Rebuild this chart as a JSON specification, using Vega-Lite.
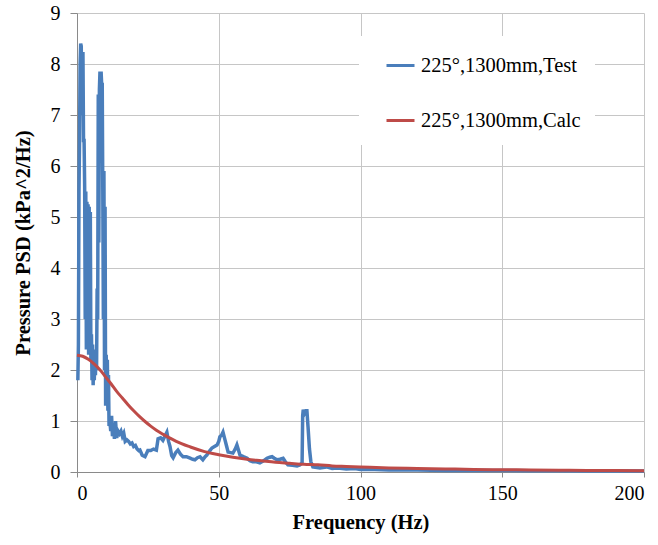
{
  "$schema": "https://vega.github.io/schema/vega-lite/v6.json",
  "width": 567,
  "height": 459,
  "autosize": "none",
  "padding": {"left": 77, "top": 13, "right": 14, "bottom": 73},
  "background": "white",
  "config": {
    "view": {"stroke": null},
    "font": "Liberation Serif",
    "axis": {
      "labelFont": "Liberation Serif",
      "titleFont": "Liberation Serif",
      "labelFontSize": 20,
      "titleFontSize": 20.5,
      "labelColor": "#000000",
      "titleColor": "#000000",
      "titleFontWeight": "bold",
      "gridColor": "#c6c6c6",
      "gridWidth": 1,
      "domainColor": "#8a8a8a",
      "domainWidth": 1,
      "tickColor": "#8a8a8a"
    },
    "legend": {
      "labelFont": "Liberation Serif",
      "labelFontSize": 20.5,
      "labelColor": "#000000"
    }
  },
  "datasets": {
    "test": [
      {"f": 0.3, "v": 1.8}, {"f": 0.5, "v": 2.5}, {"f": 0.7, "v": 5.5}, {"f": 0.9, "v": 6.5},
      {"f": 1.1, "v": 8.0}, {"f": 1.3, "v": 8.4}, {"f": 1.5, "v": 8.35}, {"f": 1.7, "v": 7.0},
      {"f": 1.9, "v": 8.2}, {"f": 2.1, "v": 8.2}, {"f": 2.3, "v": 6.5}, {"f": 2.5, "v": 6.5},
      {"f": 2.7, "v": 5.6}, {"f": 2.9, "v": 3.0}, {"f": 3.1, "v": 5.5}, {"f": 3.3, "v": 2.4},
      {"f": 3.5, "v": 5.3}, {"f": 3.7, "v": 2.6}, {"f": 3.9, "v": 5.25}, {"f": 4.1, "v": 2.3},
      {"f": 4.3, "v": 5.2}, {"f": 4.5, "v": 2.4}, {"f": 4.7, "v": 5.1}, {"f": 4.9, "v": 2.2},
      {"f": 5.1, "v": 2.7}, {"f": 5.3, "v": 1.8}, {"f": 5.5, "v": 2.5}, {"f": 5.7, "v": 1.7},
      {"f": 5.9, "v": 2.4}, {"f": 6.1, "v": 1.8}, {"f": 6.3, "v": 2.3}, {"f": 6.5, "v": 1.9},
      {"f": 6.7, "v": 2.4}, {"f": 6.9, "v": 2.0}, {"f": 7.1, "v": 3.6}, {"f": 7.3, "v": 3.0},
      {"f": 7.5, "v": 7.4}, {"f": 7.7, "v": 4.5}, {"f": 7.9, "v": 7.5}, {"f": 8.1, "v": 7.85},
      {"f": 8.3, "v": 7.2}, {"f": 8.5, "v": 7.85}, {"f": 8.7, "v": 7.6}, {"f": 8.9, "v": 7.6},
      {"f": 9.1, "v": 5.5}, {"f": 9.3, "v": 3.0}, {"f": 9.5, "v": 5.9}, {"f": 9.7, "v": 2.0},
      {"f": 9.9, "v": 5.2}, {"f": 10.1, "v": 1.3}, {"f": 10.3, "v": 2.3}, {"f": 10.5, "v": 1.3},
      {"f": 10.7, "v": 2.2}, {"f": 10.9, "v": 1.2}, {"f": 11.1, "v": 1.9}, {"f": 11.3, "v": 0.9},
      {"f": 11.6, "v": 1.0}, {"f": 11.9, "v": 0.8}, {"f": 12.2, "v": 1.1}, {"f": 12.5, "v": 0.7},
      {"f": 12.8, "v": 0.95}, {"f": 13.2, "v": 0.65}, {"f": 13.6, "v": 1.0}, {"f": 14.0, "v": 0.67},
      {"f": 14.5, "v": 0.8}, {"f": 15.0, "v": 0.75}, {"f": 15.5, "v": 0.8}, {"f": 16.0, "v": 0.7},
      {"f": 16.5, "v": 0.76}, {"f": 17.0, "v": 0.6}, {"f": 17.6, "v": 0.63}, {"f": 18.2, "v": 0.6},
      {"f": 18.8, "v": 0.55}, {"f": 19.4, "v": 0.57}, {"f": 20.0, "v": 0.5}, {"f": 20.6, "v": 0.52},
      {"f": 21.2, "v": 0.45}, {"f": 21.8, "v": 0.42}, {"f": 22.2, "v": 0.43}, {"f": 23.0, "v": 0.33},
      {"f": 24.0, "v": 0.3}, {"f": 25.0, "v": 0.42}, {"f": 26.0, "v": 0.42}, {"f": 27.0, "v": 0.45},
      {"f": 28.0, "v": 0.43}, {"f": 28.6, "v": 0.65}, {"f": 29.5, "v": 0.67}, {"f": 30.3, "v": 0.62},
      {"f": 31.0, "v": 0.7}, {"f": 31.7, "v": 0.78}, {"f": 32.3, "v": 0.6}, {"f": 32.8, "v": 0.5},
      {"f": 33.4, "v": 0.32}, {"f": 33.9, "v": 0.28}, {"f": 34.8, "v": 0.38}, {"f": 35.6, "v": 0.43},
      {"f": 36.5, "v": 0.35}, {"f": 37.4, "v": 0.3}, {"f": 38.6, "v": 0.3}, {"f": 39.9, "v": 0.27},
      {"f": 40.8, "v": 0.25}, {"f": 41.6, "v": 0.24}, {"f": 42.5, "v": 0.28}, {"f": 43.4, "v": 0.3},
      {"f": 44.4, "v": 0.24}, {"f": 45.2, "v": 0.3}, {"f": 45.8, "v": 0.33}, {"f": 46.6, "v": 0.4},
      {"f": 47.6, "v": 0.47}, {"f": 48.5, "v": 0.5}, {"f": 49.4, "v": 0.53}, {"f": 50.0, "v": 0.6},
      {"f": 50.4, "v": 0.69}, {"f": 51.0, "v": 0.72}, {"f": 51.5, "v": 0.78}, {"f": 52.2, "v": 0.63},
      {"f": 52.8, "v": 0.5}, {"f": 53.3, "v": 0.39}, {"f": 54.2, "v": 0.38}, {"f": 55.0, "v": 0.37},
      {"f": 55.8, "v": 0.45}, {"f": 56.4, "v": 0.53}, {"f": 57.0, "v": 0.42}, {"f": 57.5, "v": 0.33},
      {"f": 58.7, "v": 0.3}, {"f": 60.0, "v": 0.27}, {"f": 61.0, "v": 0.22}, {"f": 62.0, "v": 0.2},
      {"f": 63.3, "v": 0.2}, {"f": 64.5, "v": 0.18}, {"f": 65.8, "v": 0.22}, {"f": 67.0, "v": 0.27},
      {"f": 68.0, "v": 0.29}, {"f": 68.8, "v": 0.3}, {"f": 69.6, "v": 0.27}, {"f": 70.5, "v": 0.24},
      {"f": 71.6, "v": 0.25}, {"f": 72.7, "v": 0.27}, {"f": 73.5, "v": 0.2}, {"f": 74.4, "v": 0.14},
      {"f": 76.0, "v": 0.13}, {"f": 77.6, "v": 0.12}, {"f": 78.6, "v": 0.14}, {"f": 79.4, "v": 0.18},
      {"f": 79.6, "v": 1.1}, {"f": 79.8, "v": 1.22}, {"f": 80.3, "v": 1.15}, {"f": 80.8, "v": 1.2},
      {"f": 81.1, "v": 1.2}, {"f": 81.5, "v": 0.88}, {"f": 82.0, "v": 0.45}, {"f": 82.5, "v": 0.2},
      {"f": 83.2, "v": 0.1}, {"f": 85.7, "v": 0.08}, {"f": 88.0, "v": 0.1}, {"f": 90.0, "v": 0.07},
      {"f": 92.0, "v": 0.08}, {"f": 95.0, "v": 0.06}, {"f": 98.0, "v": 0.07}, {"f": 100.0, "v": 0.05},
      {"f": 105.0, "v": 0.05}, {"f": 110.0, "v": 0.04}, {"f": 120.0, "v": 0.04}, {"f": 130.0, "v": 0.03},
      {"f": 140.0, "v": 0.03}, {"f": 150.0, "v": 0.03}, {"f": 160.0, "v": 0.025}, {"f": 170.0, "v": 0.025},
      {"f": 180.0, "v": 0.02}, {"f": 190.0, "v": 0.02}, {"f": 200.0, "v": 0.02}
    ],
    "calc": [
      {"f": 0, "v": 2.29}, {"f": 2, "v": 2.27}, {"f": 4, "v": 2.21}, {"f": 6, "v": 2.12},
      {"f": 8, "v": 2.01}, {"f": 10, "v": 1.87}, {"f": 12, "v": 1.73}, {"f": 14, "v": 1.58},
      {"f": 16, "v": 1.45}, {"f": 18, "v": 1.32}, {"f": 20, "v": 1.2}, {"f": 22, "v": 1.09},
      {"f": 24, "v": 0.99}, {"f": 26, "v": 0.9}, {"f": 28, "v": 0.82}, {"f": 30, "v": 0.75},
      {"f": 32, "v": 0.69}, {"f": 35, "v": 0.6}, {"f": 40, "v": 0.49}, {"f": 45, "v": 0.4},
      {"f": 50, "v": 0.34}, {"f": 55, "v": 0.29}, {"f": 60, "v": 0.25}, {"f": 65, "v": 0.22},
      {"f": 70, "v": 0.19}, {"f": 75, "v": 0.17}, {"f": 80, "v": 0.15}, {"f": 85, "v": 0.14},
      {"f": 90, "v": 0.12}, {"f": 95, "v": 0.11}, {"f": 100, "v": 0.1}, {"f": 110, "v": 0.08},
      {"f": 120, "v": 0.07}, {"f": 130, "v": 0.06}, {"f": 140, "v": 0.05}, {"f": 150, "v": 0.045},
      {"f": 160, "v": 0.04}, {"f": 170, "v": 0.035}, {"f": 180, "v": 0.03}, {"f": 190, "v": 0.028},
      {"f": 200, "v": 0.026}
    ]
  },
  "encoding": {
    "x": {
      "field": "f", "type": "quantitative",
      "scale": {"domain": [0, 200], "nice": false},
      "axis": {"title": "Frequency (Hz)", "values": [0, 50, 100, 150, 200], "tickSize": 5, "labelPadding": 6, "titlePadding": 9, "grid": true}
    },
    "y": {
      "field": "v", "type": "quantitative",
      "scale": {"domain": [0, 9], "nice": false},
      "axis": {"title": "Pressure PSD (kPa^2/Hz)", "values": [0, 1, 2, 3, 4, 5, 6, 7, 8, 9], "tickSize": 7, "labelPadding": 10, "titlePadding": 17, "grid": true}
    }
  },
  "layer": [
    {
      "data": {"name": "test"},
      "mark": {"type": "line", "strokeWidth": 3.5, "interpolate": "linear"},
      "encoding": {
        "color": {
          "datum": "225°,1300mm,Test",
          "type": "nominal",
          "scale": {"domain": ["225°,1300mm,Test", "225°,1300mm,Calc"], "range": ["#4a7ebb", "#be4b48"]},
          "legend": {
            "title": null, "orient": "none", "legendX": 282, "legendY": 23,
            "fillColor": "white", "padding": 14, "symbolOffset": 12, "symbolType": "stroke", "symbolSize": 784,
            "symbolStrokeWidth": 3, "rowPadding": 29, "labelOffset": 5, "labelLimit": 300
          }
        }
      }
    },
    {
      "data": {"name": "calc"},
      "mark": {"type": "line", "strokeWidth": 3, "interpolate": "monotone"},
      "encoding": {
        "color": {"datum": "225°,1300mm,Calc", "type": "nominal"}
      }
    }
  ]
}
